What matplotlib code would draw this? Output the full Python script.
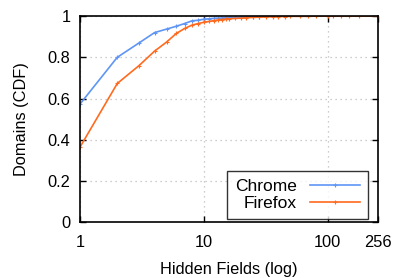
import matplotlib
matplotlib.use("Agg")
import matplotlib.pyplot as plt
from matplotlib.ticker import FixedLocator, NullLocator

plt.rcParams['font.family'] = ['Liberation Sans', 'DejaVu Sans']

# CDF of hidden fields per domain
chrome_x = [1, 2, 3, 4, 5, 6, 7, 8, 9, 10, 11, 12, 13, 14, 15, 16, 18, 20, 22, 25, 28, 32, 36, 40, 45]
chrome_y = [0.573, 0.800, 0.870, 0.920, 0.937, 0.951, 0.964, 0.977, 0.980, 0.985, 0.987, 0.989,
            0.990, 0.991, 0.992, 0.993, 0.994, 0.995, 0.996, 0.997, 0.998, 0.999, 0.999, 1.0, 1.0]
firefox_x = [1, 2, 3, 4, 5, 6, 7, 8, 9, 10, 11, 12, 13, 14, 15, 16, 18, 20, 22, 25, 28, 32,
             36, 40, 45, 50, 60, 70, 80, 100, 110, 128, 150, 180, 256]
firefox_y = [0.364, 0.673, 0.760, 0.830, 0.874, 0.916, 0.940, 0.956, 0.964, 0.970, 0.974, 0.978,
             0.981, 0.983, 0.985, 0.987, 0.989, 0.990, 0.992, 0.994, 0.995, 0.996, 0.997, 0.998,
             0.998, 0.999, 0.999, 0.999, 1.0, 1.0, 1.0, 1.0, 1.0, 1.0, 1.0]

x_ticks = [1, 10, 100, 256]
y_ticks = [0, 0.2, 0.4, 0.6, 0.8, 1]

fig = plt.figure(figsize=(3.96, 2.78), dpi=100)
ax = fig.add_axes([0.202, 0.201, 0.753, 0.741])

ax.plot(chrome_x, chrome_y, color='#5f95f5', lw=1.2, marker='+', ms=3, mew=0.8, label='Chrome')
ax.plot(firefox_x, firefox_y, color='#ff6a1f', lw=1.2, marker='+', ms=3, mew=0.8, label='Firefox')

ax.set_xscale('log')
ax.set_xlim(1, 256)
ax.set_ylim(0, 1)
ax.xaxis.set_major_locator(FixedLocator(x_ticks))
ax.xaxis.set_minor_locator(NullLocator())
ax.set_xticklabels(['1', '10', '100', '256'])
ax.set_yticks(y_ticks)
ax.set_yticklabels(['0', '0.2', '0.4', '0.6', '0.8', '1'])
ax.tick_params(direction='in', top=True, right=True, length=4, width=1,
               labelsize=11.8, pad=7)
ax.tick_params(axis='x', pad=9)

ax.grid(True, color='#bdbdbd', linestyle=(0, (1, 3)), lw=0.9)
for s in ax.spines.values():
    s.set_linewidth(1.2)

ax.set_xlabel('Hidden Fields (log)', fontsize=11.8, labelpad=9)
ax.set_ylabel('Domains (CDF)', fontsize=11.8, labelpad=13)

leg = ax.legend(loc='lower right', bbox_to_anchor=(368 / 396, (278 - 219) / 278),
                bbox_transform=fig.transFigure, borderaxespad=0,
                fontsize=12.5, markerfirst=False, frameon=True,
                fancybox=False, edgecolor='black', handlelength=2.9,
                labelspacing=0.12, handletextpad=0.75, borderpad=0.45)
leg.get_frame().set_linewidth(1.0)

fig.savefig('out.png', dpi=100)
